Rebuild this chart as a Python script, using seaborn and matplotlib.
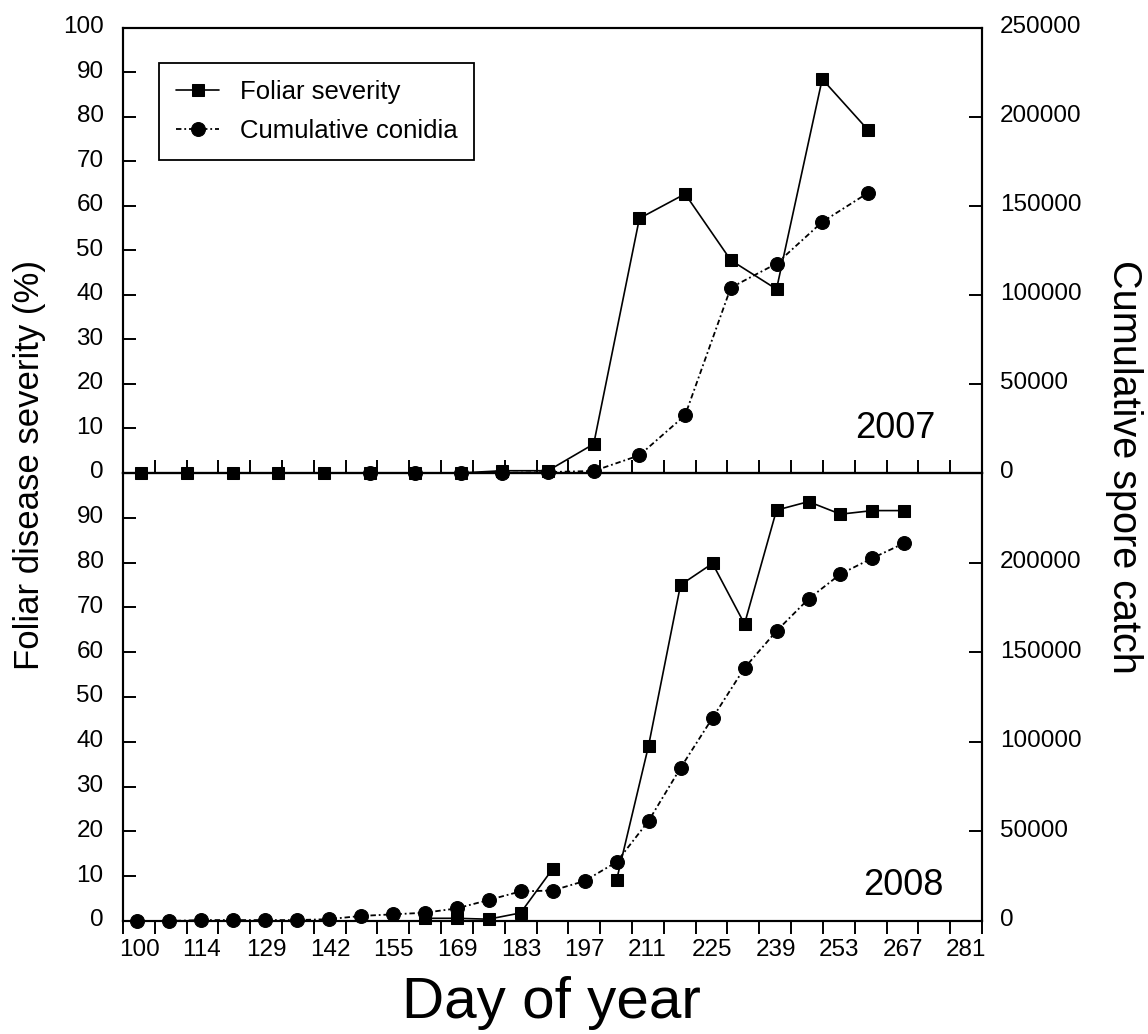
import numpy as np
import pandas as pd
import matplotlib
matplotlib.use("Agg")
import matplotlib.pyplot as plt
import seaborn as sns
from matplotlib.transforms import ScaledTranslation
from matplotlib import font_manager

# ---------------- data ----------------
days_2007 = [104, 114, 124, 134, 144, 154, 164, 174, 183, 193, 203, 213, 223, 233, 243, 253, 263]
severity_2007 = [0, 0, 0, 0, 0, 0, 0, 0, 0.5, 0.5, 6.5, 57.2, 62.7, 47.8, 41.3, 88.5, 77.1]
conidia_days_2007 = [154, 164, 174, 183, 193, 203, 213, 223, 233, 243, 253, 263]
conidia_2007 = [0, 0, 0, 0, 500, 1100, 9900, 32400, 104100, 117600, 141000, 157300]

conidia_days_2008 = [103, 110, 117, 124, 131, 138, 145, 152, 159, 166, 173, 180, 187,
                     194, 201, 208, 215, 222, 229, 236, 243, 250, 257, 264, 271]
conidia_2008 = [0, 0, 500, 500, 500, 500, 1000, 2800, 3700, 4600, 7000, 11700, 16500,
                17000, 22300, 32900, 55800, 85400, 113300, 141200, 161800, 179700,
                193600, 202500, 210900]
severity_days_2008 = [166, 173, 180, 187, 194, 201, 208, 215, 222, 229, 236, 243, 250, 257, 264, 271]
severity_2008 = [0.6, 0.6, 0.4, 1.8, 11.6, np.nan, 9.1, 39.1, 75.0, 79.8, 66.3, 91.7,
                 93.6, 90.8, 91.6, 91.6]

x_tick_labels = ["100", "114", "129", "142", "155", "169", "183", "197",
                 "211", "225", "239", "253", "267", "281"]
left_ticks_top = [0, 10, 20, 30, 40, 50, 60, 70, 80, 90, 100]
left_ticks_bot = [0, 10, 20, 30, 40, 50, 60, 70, 80, 90]
right_ticks_top = [0, 50000, 100000, 150000, 200000, 250000]
right_ticks_bot = [0, 50000, 100000, 150000, 200000]

series_labels = ["Foliar severity", "Cumulative conidia"]
year_labels = ["2007", "2008"]

# ---------------- style ----------------
sns.set_style("ticks")
plt.rcParams["font.family"] = ["Liberation Sans", "DejaVu Sans"]
plt.rcParams["axes.linewidth"] = 1.5
for k in ("text.color", "axes.labelcolor", "xtick.color", "ytick.color", "axes.edgecolor"):
    plt.rcParams[k] = "black"

installed = {f.name for f in font_manager.fontManager.ttflist}
if "Liberation Sans Narrow" in installed:
    tick_font = dict(family=["Liberation Sans Narrow", "Liberation Sans", "DejaVu Sans"], size=20)
else:
    tick_font = dict(family=["Liberation Sans", "DejaVu Sans"], size=17.5)

fig = plt.figure(figsize=(11.48, 10.34), dpi=100)
ax_top = fig.add_axes([0.1071, 0.5426, 0.7483, 0.4304])
ax_bot = fig.add_axes([0.1071, 0.1093, 0.7483, 0.4333])
for a in (ax_top, ax_bot):
    a.set_facecolor("none")
tw_top = ax_top.twinx()
tw_bot = ax_bot.twinx()

sev_kw = dict(color="black", marker="s", markersize=9, markeredgecolor="black",
              linewidth=1.2, clip_on=False, legend=False)
con_kw = dict(color="black", marker="o", markersize=10, markeredgecolor="black",
              linewidth=1.3, linestyle=(0, (3, 1.6, 1, 1.6)), clip_on=False, legend=False)

# 2007
sns.lineplot(x=days_2007, y=severity_2007, ax=ax_top, **sev_kw)
sns.lineplot(x=conidia_days_2007, y=conidia_2007, ax=tw_top, **con_kw)

# 2008 (gap where severity is missing)
df08 = pd.DataFrame({"day": severity_days_2008, "sev": severity_2008})
df08["segment"] = df08["sev"].isna().cumsum()
df08 = df08.dropna()
sns.lineplot(data=df08, x="day", y="sev", units="segment", estimator=None, ax=ax_bot, **sev_kw)
sns.lineplot(x=conidia_days_2008, y=conidia_2008, ax=tw_bot, **con_kw)

# ---------------- axes ----------------
x_lo, x_hi = 100, 100 + 27 * 181 / 26
xt = 100 + np.arange(28) * 181 / 26
xt_labels = []
for i in range(28):
    xt_labels.append(x_tick_labels[i // 2] if (i % 2 == 0 and i // 2 < len(x_tick_labels)) else "")

up = ScaledTranslation(0, 3 / 100, fig.dpi_scale_trans)
for a, tw, lt, rt in ((ax_top, tw_top, left_ticks_top, right_ticks_top),
                      (ax_bot, tw_bot, left_ticks_bot, right_ticks_bot)):
    a.set_xlim(x_lo, x_hi)
    a.set_ylim(0, 100)
    tw.set_ylim(0, 250000)
    a.set_yticks(lt)
    a.set_yticklabels([str(v) for v in lt], fontdict=tick_font)
    tw.set_yticks(rt)
    tw.set_yticklabels([str(v) for v in rt], fontdict=tick_font)
    a.set_xlabel("")
    a.set_ylabel("")
    tw.set_ylabel("")
    a.tick_params(axis="y", direction="in", length=9.5, width=1.4, pad=14,
                  left=True, right=False)
    tw.tick_params(axis="y", direction="in", length=9.5, width=1.4, pad=13,
                   right=True, left=False)
    for lab in list(a.get_yticklabels()) + list(tw.get_yticklabels()):
        lab.set_transform(lab.get_transform() + up)
    for s in list(a.spines.values()) + list(tw.spines.values()):
        s.set_visible(True)
        s.set_linewidth(1.5)
        s.set_color("black")

ax_top.set_xticks(xt)
ax_top.set_xticklabels([""] * len(xt))
ax_top.tick_params(axis="x", direction="in", length=9.5, width=1.4, bottom=True, top=False,
                   labelbottom=False)
ax_bot.set_xticks(xt)
ax_bot.set_xticklabels(xt_labels, fontdict=tick_font)
ax_bot.tick_params(axis="x", direction="out", length=9.5, width=1.4, pad=3.5,
                   bottom=True, top=False)
tw_top.tick_params(axis="x", bottom=False, top=False)
tw_bot.tick_params(axis="x", bottom=False, top=False)

shift = ScaledTranslation(-4 / 100, 0, fig.dpi_scale_trans)
for lab in ax_bot.get_xticklabels():
    lab.set_horizontalalignment("left")
    lab.set_transform(lab.get_transform() + shift)

# year annotations
ax_top.text(0.899, 0.10, year_labels[0], transform=ax_top.transAxes, fontsize=26,
            ha="center", va="center")
ax_bot.text(0.908, 0.08, year_labels[1], transform=ax_bot.transAxes, fontsize=26,
            ha="center", va="center")

# legend
h_sev = ax_top.get_lines()[0]
h_con = tw_top.get_lines()[0]
leg = tw_top.legend([h_sev, h_con], series_labels, loc="upper left",
                    bbox_to_anchor=(0.042, 0.921), borderaxespad=0, fontsize=18.5,
                    frameon=True, fancybox=False, edgecolor="black", framealpha=1,
                    handlelength=1.7, handletextpad=0.8, labelspacing=0.6,
                    borderpad=0.65)
leg.get_frame().set_linewidth(1.3)

# axis titles
fig.text(0.026, 0.55, "Foliar disease severity (%)", rotation=90, fontsize=25,
         ha="center", va="center")
fig.text(0.979, 0.548, "Cumulative spore catch", rotation=270, fontsize=28.5,
         ha="center", va="center")
fig.text(0.48, 0.03, "Day of year", fontsize=42, ha="center", va="center")

fig.savefig("out.png", dpi=100)
